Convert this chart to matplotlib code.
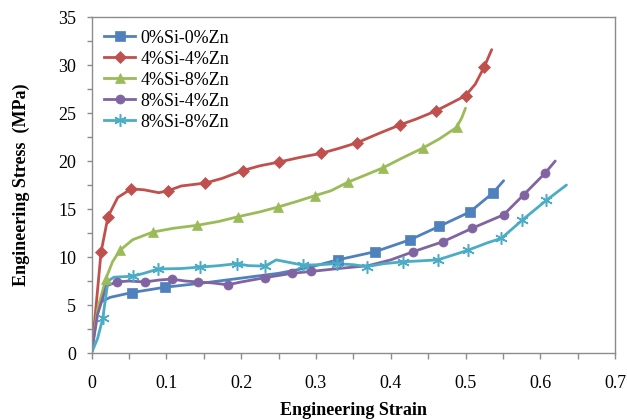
import matplotlib
matplotlib.use("Agg")
import matplotlib.pyplot as plt
from matplotlib.lines import Line2D
from matplotlib.ticker import MultipleLocator
import numpy as np

labels = ["0%Si-0%Zn", "4%Si-4%Zn", "4%Si-8%Zn", "8%Si-4%Zn", "8%Si-8%Zn"]

x_00 = [0, 0.005, 0.012, 0.025, 0.054, 0.098, 0.15, 0.2, 0.25, 0.29, 0.329, 0.379, 0.426, 0.465, 0.506, 0.537, 0.551]
y_00 = [0, 3.5, 5.3, 5.8, 6.3, 6.85, 7.3, 7.8, 8.3, 8.9, 9.7, 10.55, 11.8, 13.2, 14.7, 16.7, 17.95]
m_00 = [4, 5, 10, 11, 12, 13, 14, 15]

x_44 = [0, 0.005, 0.0127, 0.022, 0.035, 0.053, 0.07, 0.09, 0.102, 0.12, 0.152, 0.175, 0.202, 0.225, 0.251,
        0.28, 0.307, 0.33, 0.355, 0.385, 0.412, 0.435, 0.46, 0.48, 0.50, 0.513, 0.525, 0.535]
y_44 = [0, 4, 10.5, 14.2, 16.2, 17.1, 17.0, 16.7, 16.9, 17.4, 17.7, 18.2, 19.0, 19.5, 19.9,
        20.4, 20.8, 21.3, 21.9, 22.9, 23.75, 24.4, 25.2, 26.0, 26.8, 28.0, 29.8, 31.6]
m_44 = [2, 3, 5, 8, 10, 12, 14, 16, 18, 20, 22, 24, 26]

x_48 = [0, 0.008, 0.019, 0.028, 0.038, 0.055, 0.082, 0.11, 0.141, 0.17, 0.196, 0.225, 0.249, 0.275,
        0.299, 0.32, 0.343, 0.365, 0.39, 0.415, 0.443, 0.465, 0.488, 0.495, 0.50]
y_48 = [0, 4.5, 7.7, 9.5, 10.7, 11.8, 12.6, 13.0, 13.3, 13.7, 14.2, 14.7, 15.2, 15.8,
        16.4, 16.9, 17.8, 18.5, 19.3, 20.3, 21.35, 22.3, 23.5, 24.5, 25.5]
m_48 = [2, 4, 6, 8, 10, 12, 14, 16, 18, 20, 22]

x_84 = [0, 0.008, 0.02, 0.034, 0.05, 0.071, 0.09, 0.107, 0.125, 0.142, 0.162, 0.182, 0.2, 0.232, 0.268,
        0.294, 0.33, 0.37, 0.40, 0.43, 0.47, 0.509, 0.551, 0.578, 0.606, 0.62]
y_84 = [0, 4, 7.0, 7.4, 7.5, 7.4, 7.6, 7.7, 7.5, 7.4, 7.3, 7.1, 7.4, 7.85, 8.3,
        8.5, 8.8, 9.1, 9.7, 10.55, 11.6, 13.0, 14.4, 16.5, 18.7, 20.0]
m_84 = [3, 5, 7, 9, 11, 13, 14, 15, 19, 20, 21, 22, 23, 24]

x_88 = [0, 0.008, 0.015, 0.022, 0.03, 0.055, 0.07, 0.089, 0.12, 0.145, 0.17, 0.194, 0.21, 0.232, 0.247,
        0.26, 0.283, 0.305, 0.328, 0.35, 0.368, 0.39, 0.416, 0.44, 0.463, 0.503, 0.53, 0.548, 0.576, 0.608, 0.635]
y_88 = [0, 1.5, 3.6, 7.5, 7.9, 8.0, 8.3, 8.75, 8.8, 8.95, 9.1, 9.3, 9.1, 9.05, 9.7,
        9.5, 9.15, 9.2, 9.3, 9.2, 9.0, 9.3, 9.5, 9.6, 9.7, 10.7, 11.5, 11.95, 13.85, 15.9, 17.5]
m_88 = [2, 5, 7, 9, 11, 13, 16, 18, 20, 22, 24, 25, 27, 28, 29]

x_ticks = [0, 0.1, 0.2, 0.3, 0.4, 0.5, 0.6, 0.7]
x_ticklabels = ["0", "0.1", "0.2", "0.3", "0.4", "0.5", "0.6", "0.7"]

series = [(x_00, y_00, m_00), (x_44, y_44, m_44), (x_48, y_48, m_48), (x_84, y_84, m_84), (x_88, y_88, m_88)]
colors = ["#4F81BD", "#C0504D", "#9BBB59", "#8064A2", "#4BACC6"]
markers = ["s", "D", "^", "o", (6, 2, 0)]
msizes = [6.5, 6, 7.5, 6.5, 9]

plt.rcParams['font.family'] = ['Liberation Serif', 'DejaVu Serif']
FS = 13

fig = plt.figure(figsize=(6.27, 4.2), dpi=100)
ax = fig.add_axes([0.146, 0.1595, 0.835, 0.8])

handles = []
for (xs, ys, mi), c, mk, ms, lab in zip(series, colors, markers, msizes, labels):
    xs = np.array(xs); ys = np.array(ys)
    ax.plot(xs, ys, color=c, lw=2.0, solid_capstyle='round', zorder=2)
    mew = 1.1 if isinstance(mk, tuple) else 0.5
    ax.plot(xs[mi], ys[mi], ls='none', marker=mk, ms=ms, color=c, mec=c, mew=mew, zorder=3)
    handles.append(Line2D([], [], color=c, lw=2.0, marker=mk, ms=ms, mec=c, mew=mew, label=lab))

ax.set_xlim(0, 0.7)
ax.set_ylim(0, 35)
ax.xaxis.set_minor_locator(MultipleLocator(0.05))
ax.yaxis.set_major_locator(MultipleLocator(5))
ax.yaxis.set_minor_locator(MultipleLocator(2.5))
ax.set_xticks(x_ticks)
ax.set_xticklabels(x_ticklabels)
ax.tick_params(which='both', direction='out', width=1, color='#8c8c8c', labelsize=FS)
ax.tick_params(axis='y', which='both', length=3.6, pad=7.5)
ax.tick_params(axis='x', which='both', length=4.3, pad=11.5)
for s in ax.spines.values():
    s.set_color('#8c8c8c')
    s.set_linewidth(1.0)

ax.set_xlabel("Engineering Strain", fontweight='bold', fontsize=FS, labelpad=7)
ax.set_ylabel("Engineering Stress  (MPa)", fontweight='bold', fontsize=FS, labelpad=20)

leg = ax.legend(handles=handles, loc='upper left', frameon=False, fontsize=FS, numpoints=1,
                handlelength=1.7, handletextpad=0.3, labelspacing=0.22, borderaxespad=0.3,
                bbox_to_anchor=(0.0, 1.0))

fig.savefig("out.png", dpi=100)
